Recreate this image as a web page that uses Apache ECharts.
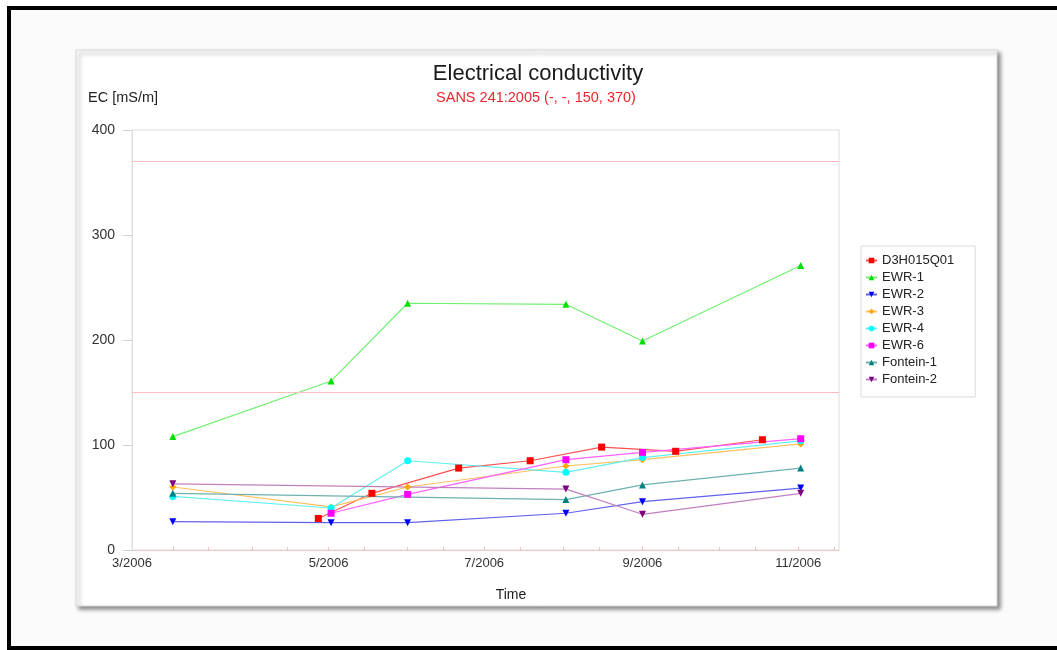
<!DOCTYPE html>
<html><head><meta charset="utf-8">
<script src="https://cdn.jsdelivr.net/npm/echarts@6/dist/echarts.min.js"></script>
<style>html,body{margin:0;padding:0;background:#fff}#c{width:1057px;height:650px}</style>
</head><body><div id="c"></div>
<script>
// ---- data ----
const sampleDates = ['2006-03-01','2006-04-27','2006-05-02','2006-05-18','2006-06-01','2006-06-21','2006-07-19','2006-08-02','2006-08-16','2006-09-01','2006-09-14','2006-10-18','2006-11-02'];
const D3H015Q01 = [null, 30, null, 54, null, 78, 85, null, 98, null, 94, 105, null];
const EWR_1     = [108, null, 161, null, 235, null, null, 234, null, 199, null, null, 271];
const EWR_2     = [27, null, 26, null, 26, null, null, 35, null, 46, null, null, 59];
const EWR_3     = [60, null, 41, null, 60, null, null, 80, null, 86, null, null, 101];
const EWR_4     = [51, null, 40, null, 85, null, null, 74, null, 88, null, null, 104];
const EWR_6     = [null, null, 35, null, 53, null, null, 86, null, 93, null, null, 106];
const Fontein_1 = [54, null, null, null, null, null, null, 48, null, 62, null, null, 78];
const Fontein_2 = [63, null, null, null, null, null, null, 58, null, 34, null, null, 54];
const seriesNames = ['D3H015Q01','EWR-1','EWR-2','EWR-3','EWR-4','EWR-6','Fontein-1','Fontein-2'];
const seriesValues = [D3H015Q01, EWR_1, EWR_2, EWR_3, EWR_4, EWR_6, Fontein_1, Fontein_2];
const limitValues = [150, 370];
const xAxisMin = '2006-02-13';
const xAxisMax = '2006-11-17';
const xTickLabels = ['3/2006','5/2006','7/2006','9/2006','11/2006'];
const xTickDates  = ['2006-02-13','2006-05-01','2006-07-01','2006-09-01','2006-11-01'];
const minorTickMonths = [3,4,5,6,7,8,9,10,11];
const yTicks = [0, 100, 200, 300, 400];

// ---- styles ----
const colors = ['#ff0000','#00e000','#0000ff','#ffa500','#00ffff','#ff00ff','#008080','#800080'];
const lineColors = ['#ff5050','#70f070','#6060f0','#ffc060','#60f0f0','#ff60ff','#70b0b0','#c080c0'];
const symbols = ['rect','triangle','triangle','diamond','circle','rect','triangle','triangle'];
const rotations = [0,0,180,0,0,0,0,180];
const FONT = '"Liberation Sans", Arial, sans-serif';

function ts(s){ const p = s.split('-').map(Number); return Date.UTC(p[0], p[1]-1, p[2]); }

const minorTicks = [];
minorTickMonths.forEach(m => { minorTicks.push(Date.UTC(2006, m-1, 1)); minorTicks.push(Date.UTC(2006, m-1, 15)); });
const labelValues = xTickDates.map(ts);

const series = seriesNames.map((name, i) => {
  const data = [];
  sampleDates.forEach((d, k) => { if (seriesValues[i][k] != null) data.push([ts(d), seriesValues[i][k]]); });
  const s = {
    name, type: 'line', data,
    symbol: symbols[i], symbolSize: 7, symbolRotate: rotations[i],
    showAllSymbol: true,
    itemStyle: { color: colors[i] },
    lineStyle: { color: lineColors[i], width: 1.2 },
    emphasis: { disabled: true },
    animation: false
  };
  if (i === 0) {
    s.markLine = {
      silent: true, symbol: ['none','none'], label: { show: false },
      lineStyle: { color: '#ffbcbc', type: 'solid', width: 1, opacity: 1 },
      data: limitValues.map(v => ({ yAxis: v, lineStyle: { color: '#ffbcbc', type: 'solid', width: 1 } }))
    };
  }
  return s;
});

const chart = echarts.init(document.getElementById('c'), null, { renderer: 'canvas' });
chart.setOption({
  animation: false,
  backgroundColor: '#ffffff',
  textStyle: { fontFamily: FONT },
  graphic: [
    { type: 'rect', z: -10, shape: { x: 9, y: 8, width: 1100, height: 640 },
      style: { fill: '#fbfbfb', stroke: '#000', lineWidth: 4 } },
    { type: 'rect', z: -9, shape: { x: 76, y: 50, width: 921, height: 556 },
      style: { fill: '#fff', stroke: '#d8d8d8', lineWidth: 1,
               shadowColor: 'rgba(0,0,0,0.45)', shadowBlur: 4, shadowOffsetX: 3, shadowOffsetY: 3 } },
    { type: 'text', z: 10, x: 538, y: 74, style: { text: 'Electrical conductivity', font: '22px ' + FONT, fill: '#1a1a1a', textAlign: 'center', textVerticalAlign: 'middle' } },
    { type: 'text', z: 10, x: 536, y: 98, style: { text: 'SANS 241:2005 (-, -, 150, 370)', font: '14.5px ' + FONT, fill: '#e8262e', textAlign: 'center', textVerticalAlign: 'middle' } },
    { type: 'text', z: 10, x: 88, y: 98, style: { text: 'EC [mS/m]', font: '14.5px ' + FONT, fill: '#222', textAlign: 'left', textVerticalAlign: 'middle' } },
    { type: 'text', z: 10, x: 511, y: 595, style: { text: 'Time', font: '14px ' + FONT, fill: '#222', textAlign: 'center', textVerticalAlign: 'middle' } }
  ],
  grid: { left: 132, top: 130, width: 707, height: 420, show: true, borderColor: '#dedede', borderWidth: 1, backgroundColor: 'transparent', containLabel: false },
  legend: {
    data: seriesNames, orient: 'vertical', left: 861, top: 246,
    padding: [8, 21, 11, 4], itemGap: 4, itemWidth: 11, itemHeight: 7,
    borderColor: '#dcdcdc', borderWidth: 1, backgroundColor: '#fff',
    textStyle: { fontSize: 13, color: '#222', fontFamily: FONT }
  },
  xAxis: {
    type: 'value', min: ts(xAxisMin), max: ts(xAxisMax),
    axisLine: { show: true, lineStyle: { color: '#f0c8cc' } },
    axisTick: { show: true, inside: true, length: 3, customValues: minorTicks, lineStyle: { color: '#e8c0c4' } },
    axisLabel: {
      customValues: labelValues, fontSize: 13, color: '#333', margin: 7, fontFamily: FONT,
      showMinLabel: true, hideOverlap: false,
      formatter: (v) => {
        let best = 0, bd = Infinity;
        labelValues.forEach((lv, i) => { const d = Math.abs(lv - v); if (d < bd) { bd = d; best = i; } });
        return xTickLabels[best];
      }
    },
    splitLine: { show: false }
  },
  yAxis: {
    type: 'value', min: yTicks[0], max: yTicks[yTicks.length-1], interval: 100,
    axisLine: { show: true, lineStyle: { color: '#dedede' } },
    axisTick: { show: true, length: 9, lineStyle: { color: '#d0d0d0' } },
    axisLabel: { fontSize: 14, color: '#333', margin: 17, fontFamily: FONT },
    splitLine: { show: false }
  },
  series
});
</script></body></html>
